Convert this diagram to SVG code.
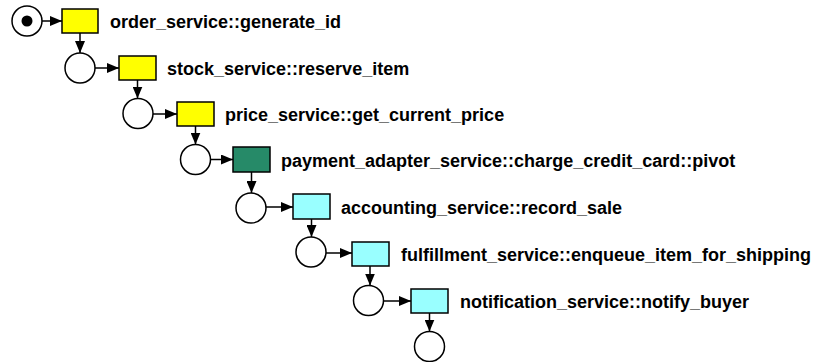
<svg xmlns="http://www.w3.org/2000/svg" width="819" height="362" viewBox="0 0 819 362">
<style>
.place{fill:#fff;stroke:#000;stroke-width:1.5}
.tr{stroke:#000;stroke-width:1.5}
.y{fill:#ffff00}
.g{fill:#268a68}
.c{fill:#99ffff}
.lbl{font-family:"Liberation Sans",Arial,sans-serif;font-weight:bold;font-size:18px;fill:#000}
.arc{stroke:#000;stroke-width:1.5;fill:none;marker-end:url(#ah)}
</style>
<defs>
<marker id="ah" viewBox="0 0 12 10" refX="12" refY="5" markerWidth="12" markerHeight="10" markerUnits="userSpaceOnUse" orient="auto">
<path d="M0,0 L12,5 L0,10 Z" fill="#000"/>
</marker>
</defs>
<rect width="819" height="362" fill="#fff"/>
<g id="connectors">
<line class="arc" x1="42" y1="21" x2="62" y2="21"/>
<line class="arc" x1="80" y1="33" x2="80" y2="53"/>
<line class="arc" x1="95" y1="68" x2="119" y2="68"/>
<line class="arc" x1="137.5" y1="80" x2="137.5" y2="98.5"/>
<line class="arc" x1="153" y1="114" x2="177" y2="114"/>
<line class="arc" x1="195.5" y1="126" x2="195.5" y2="144.5"/>
<line class="arc" x1="210.5" y1="159.5" x2="233" y2="159.5"/>
<line class="arc" x1="251.5" y1="172" x2="251.5" y2="193"/>
<line class="arc" x1="266" y1="207" x2="293" y2="207"/>
<line class="arc" x1="311.5" y1="219" x2="311.5" y2="237"/>
<line class="arc" x1="326" y1="253" x2="352" y2="253"/>
<line class="arc" x1="370" y1="266" x2="370" y2="285.5"/>
<line class="arc" x1="383.5" y1="301" x2="411" y2="301"/>
<line class="arc" x1="429.5" y1="313" x2="429.5" y2="331.5"/>
</g>
<g id="p0"><circle class="place" cx="27" cy="21" r="15"/><circle cx="27" cy="21" r="5.5" fill="#000"/></g>
<g id="t1"><rect class="tr y" x="62" y="9" width="36" height="24"/><text class="lbl" x="110" y="28">order_service::generate_id</text></g>
<g id="p1"><circle class="place" cx="80" cy="68" r="15"/></g>
<g id="t2"><rect class="tr y" x="119" y="56" width="37" height="24"/><text class="lbl" x="167" y="75">stock_service::reserve_item</text></g>
<g id="p2"><circle class="place" cx="138" cy="113.5" r="15"/></g>
<g id="t3"><rect class="tr y" x="177" y="102" width="37" height="24"/><text class="lbl" x="225" y="121">price_service::get_current_price</text></g>
<g id="p3"><circle class="place" cx="195.5" cy="159.5" r="15"/></g>
<g id="t4"><rect class="tr g" x="233" y="147" width="37" height="25"/><text class="lbl" x="281" y="166.5">payment_adapter_service::charge_credit_card::pivot</text></g>
<g id="p4"><circle class="place" cx="251" cy="208" r="15"/></g>
<g id="t5"><rect class="tr c" x="293" y="194" width="37" height="25"/><text class="lbl" x="341" y="213.5">accounting_service::record_sale</text></g>
<g id="p5"><circle class="place" cx="311" cy="252" r="15"/></g>
<g id="t6"><rect class="tr c" x="352" y="242" width="37" height="24"/><text class="lbl" x="401" y="261">fulfillment_service::enqueue_item_for_shipping</text></g>
<g id="p6"><circle class="place" cx="368.5" cy="300.5" r="15"/></g>
<g id="t7"><rect class="tr c" x="411" y="289" width="37" height="24"/><text class="lbl" x="460" y="308">notification_service::notify_buyer</text></g>
<g id="p7"><circle class="place" cx="429.5" cy="346.5" r="15"/></g>
</svg>
